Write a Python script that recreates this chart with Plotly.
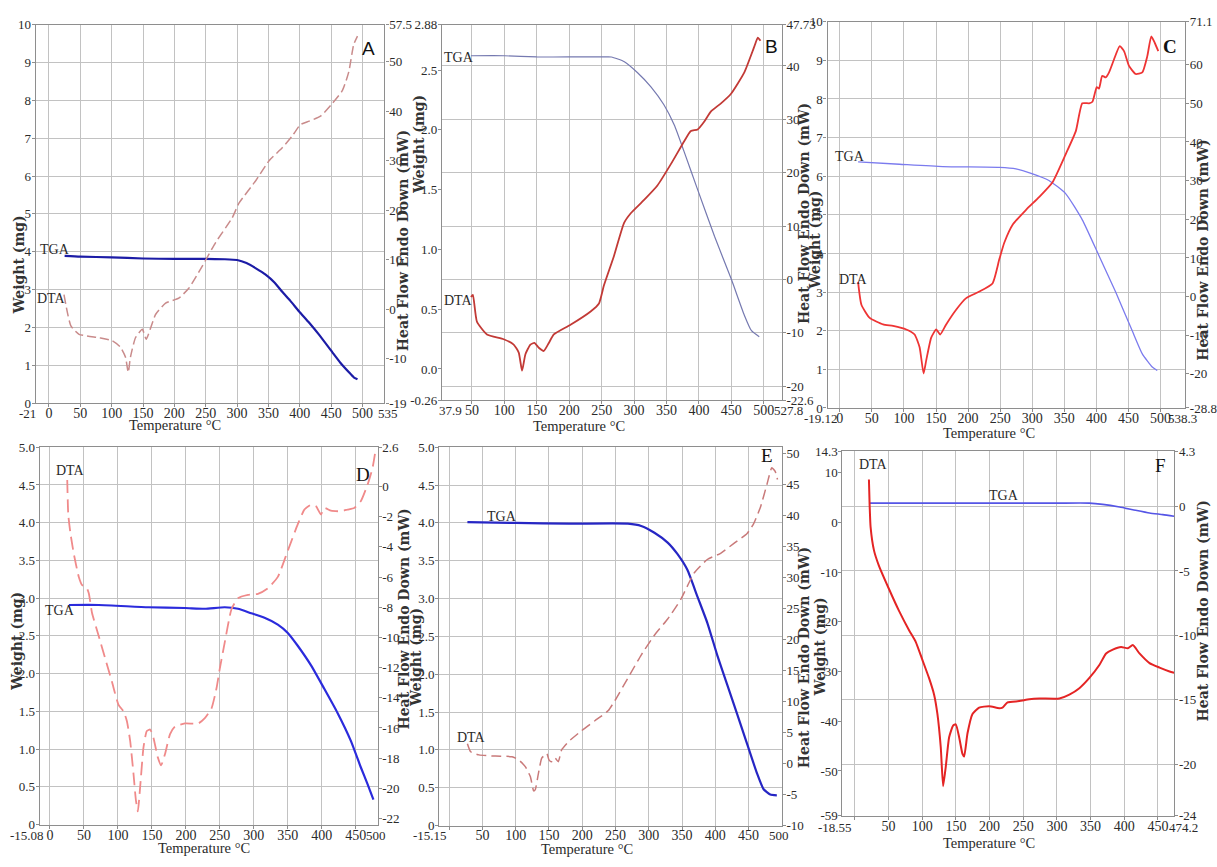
import plotly.graph_objects as go

# ---------------------------------------------------------------- data
# Panel A
A_TGA_T = [25, 50, 100, 150, 200, 250, 280, 300, 315, 330, 345, 360, 372, 385, 399, 415, 430, 452, 465, 478, 486, 492]
A_TGA_W = [3.89, 3.87, 3.85, 3.82, 3.81, 3.81, 3.80, 3.78, 3.70, 3.56, 3.40, 3.18, 2.94, 2.70, 2.42, 2.12, 1.82, 1.34, 1.06, 0.82, 0.68, 0.63]
A_DTA_T = [24, 35, 48, 80, 101, 114, 122, 126.5, 130, 138, 149, 155, 170, 186, 207, 223, 245, 266, 292, 303, 330, 351, 372, 388, 401, 415, 433, 452, 468, 478, 486, 492]
A_DTA_Q = [2.9, -3.4, -5.1, -5.8, -6.4, -7.7, -9.7, -12.8, -9.7, -5.8, -4.1, -6.1, -1.1, 1.2, 2.2, 4.2, 8.8, 13.5, 18.4, 21.4, 26.0, 30.0, 32.6, 35.0, 37.3, 38.0, 39.0, 41.6, 44.2, 47.9, 53.5, 55.2]

# Panel B
B_TGA_T = [48.5, 100, 150, 200, 250, 265, 285, 305, 326, 346, 362, 377, 398, 424, 450, 470, 481, 493]
B_TGA_W = [2.62, 2.62, 2.61, 2.61, 2.61, 2.61, 2.57, 2.48, 2.36, 2.21, 2.04, 1.82, 1.50, 1.11, 0.75, 0.45, 0.32, 0.27]
B_DTA_T = [48.5, 51.5, 57.7, 73.2, 99, 114.4, 122.2, 127.3, 132.5, 140.2, 146.4, 153.1, 160.8, 168.6, 176.3, 202, 233, 245.9, 253.6, 269, 284.6, 294.9, 315.5, 336, 356.7, 377.3, 387.6, 398, 408.3, 418.6, 434, 449.5, 470, 485.6, 490.8, 494.9]
B_DTA_Q = [-3.3, -2.9, -7.9, -10.3, -11.2, -12.2, -13.7, -17.1, -14.0, -12.2, -11.9, -12.8, -13.4, -11.9, -10.3, -8.5, -6.0, -4.5, -1.1, 4.4, 10.6, 12.4, 14.9, 17.6, 21.6, 25.9, 27.8, 28.1, 29.6, 31.5, 33.0, 34.8, 38.8, 43.7, 45.3, 44.7]

# Panel C
C_TGA_T = [28.5, 93, 160.6, 248.7, 274.6, 300.5, 326, 352, 378, 404, 430, 456, 471.5, 487, 494.8]
C_TGA_W = [6.37, 6.31, 6.25, 6.23, 6.19, 6.06, 5.89, 5.55, 4.87, 3.94, 3.00, 1.99, 1.40, 1.06, 0.97]
C_DTA_T = [28.5, 33.7, 46.6, 67.4, 83, 103.6, 116.6, 124.4, 130.6, 134.7, 142.5, 150.3, 156.5, 165.8, 181.3, 197, 217.6, 238, 248.7, 256.5, 269.4, 290, 311, 331.6, 352, 367.9, 378, 388.6, 393.8, 400.5, 404, 409, 414.5, 419.7, 427.5, 436.3, 443, 450.8, 461, 471.5, 479.3, 485.5, 491, 496.4]
C_DTA_Q = [3.8, -2.1, -5.5, -7.2, -7.6, -8.5, -9.8, -13.1, -19.9, -16.5, -10.6, -8.5, -9.8, -7.2, -3.4, -0.4, 1.3, 3.4, 9.7, 14.0, 18.6, 22.4, 25.8, 29.6, 36.8, 42.8, 50.0, 50.0, 50.4, 54.2, 53.8, 57.1, 56.7, 58.0, 61.4, 64.8, 63.5, 59.7, 57.6, 58.0, 62.2, 67.3, 65.6, 63.5]

# Panel D
D_TGA_T = [27.8, 71.7, 144.9, 198.6, 227.9, 257.2, 276.7, 296.2, 315.7, 335.3, 350, 364.6, 384.2, 403.7, 423.2, 442.8, 457.4, 467.2, 476]
D_TGA_W = [2.91, 2.91, 2.88, 2.87, 2.86, 2.88, 2.86, 2.80, 2.74, 2.65, 2.54, 2.37, 2.11, 1.80, 1.48, 1.11, 0.76, 0.54, 0.33]
D_DTA_T = [25.4, 26.9, 30.3, 35.1, 42.4, 47.3, 53.2, 57.1, 61.9, 71.7, 81.4, 91.2, 100.9, 108.3, 113.2, 118, 122.9, 126.4, 129.3, 132.7, 137.6, 142.5, 147.4, 152.2, 158.6, 163.5, 169.3, 176.7, 184, 198.6, 218.2, 227.9, 237.7, 245, 249.9, 257.2, 267, 276.7, 291.4, 306, 320.7, 335.3, 350, 364.6, 374.4, 384.2, 391.5, 398.8, 403.7, 413.5, 428.1, 437.9, 447.7, 457.4, 467.2, 474.5, 479.4]
D_DTA_Q = [0.43, -1.86, -3.16, -4.47, -5.99, -6.53, -6.64, -7.07, -8.38, -9.9, -11.42, -12.94, -14.47, -14.9, -15.55, -16.86, -19.03, -20.77, -21.53, -19.9, -17.29, -16.2, -16.1, -16.64, -17.93, -18.47, -17.72, -16.4, -15.9, -15.7, -15.7, -15.35, -14.7, -13.38, -12.07, -10.33, -8.15, -7.4, -7.18, -7.11, -6.74, -5.99, -4.25, -2.51, -1.53, -1.2, -1.31, -1.86, -1.42, -1.6, -1.64, -1.53, -1.42, -0.98, 0.1, 1.19, 2.49]

# Panel E
E_TGA_T = [27.4, 100, 180, 268.7, 288.6, 308.5, 328.4, 343, 358, 373, 388, 403, 418, 433, 447.8, 462.7, 472.6, 482.6, 492.5]
E_TGA_W = [4.01, 4.00, 3.99, 3.99, 3.96, 3.87, 3.74, 3.59, 3.38, 3.03, 2.68, 2.25, 1.86, 1.47, 1.08, 0.69, 0.48, 0.41, 0.40]
E_DTA_T = [27.4, 32.3, 44.8, 69.7, 94.5, 104.5, 114.4, 122, 127, 129.4, 134.3, 139.3, 146.8, 150, 154, 159, 164, 169, 179, 199, 219, 238.8, 248.8, 268.7, 288.6, 308.5, 328.4, 348.3, 368, 388, 408, 428, 447.8, 457.7, 467.7, 477.6, 485, 490, 493.5]
E_DTA_Q = [3.2, 1.9, 1.4, 1.2, 1.1, 0.6, -0.5, -2.1, -4.4, -4.2, -1.5, 0.9, 1.6, 0.6, 0.3, 0.9, 0.3, 2.2, 3.5, 5.3, 6.9, 8.5, 10.1, 13.8, 17.5, 20.7, 23.3, 26.5, 30.7, 32.9, 33.9, 35.5, 37.1, 38.7, 41.3, 45.0, 47.7, 47.1, 45.8]

# Panel F
F_TGA_T = [21.8, 100, 200, 300, 348, 368, 393, 412.7, 437.5, 457.3, 474]
F_TGA_W = [3.86, 3.86, 3.86, 3.86, 3.86, 3.6, 3.07, 2.54, 1.88, 1.55, 1.22]
F_DTA_T = [20.8, 21.8, 23.3, 28.3, 35.7, 50.6, 65.5, 80.4, 90.3, 100.2, 110, 117.6, 122.5, 127.5, 131, 134.9, 139.9, 145.8, 149.8, 154.8, 159.7, 162.2, 167.2, 174.6, 184.5, 199.4, 214.3, 219.2, 226.7, 244, 259, 273.8, 303.6, 318.5, 333.3, 348.2, 363, 373, 383, 395.3, 405.3, 412.7, 422.6, 437.5, 452.4, 467.3, 474]
F_DTA_Q = [2.1, 0.2, -1.6, -3.4, -4.6, -6.4, -8.1, -9.6, -10.5, -11.9, -13.3, -14.6, -16.1, -18.7, -21.7, -20.2, -17.9, -17.0, -16.9, -17.9, -19.2, -19.4, -17.6, -16.1, -15.6, -15.5, -15.65, -15.6, -15.2, -15.1, -14.96, -14.9, -14.9, -14.6, -14.1, -13.3, -12.3, -11.4, -11.1, -10.9, -11.0, -10.75, -11.4, -12.15, -12.5, -12.8, -12.9]

# ---------------------------------------------------------------- tick labels
TEMP_TICKS = [50, 100, 150, 200, 250, 300, 350, 400, 450]

A_X_VALS = [0] + TEMP_TICKS + [500]
A_X_TEXT = ["0"] + [str(v) for v in TEMP_TICKS] + ["500"]
A_X_ENDS = ["-21", "535"]
A_WL_VALS = list(range(0, 11))
A_HF_VALS = [-19, -10, 0, 10, 20, 30, 40, 50, 57.5]

B_X_VALS = TEMP_TICKS + [500]
B_X_TEXT = [str(v) for v in TEMP_TICKS] + ["500"]
B_X_ENDS = ["37.9", "527.8"]
B_WL_VALS = [-0.26, 0.0, 0.5, 1.0, 1.5, 2.0, 2.5, 2.88]
B_WL_TEXT = ["-0.26", "0.0", "0.5", "1.0", "1.5", "2.0", "2.5", "2.88"]
B_HF_VALS = [-22.6, -20, -10, 0, 10, 20, 30, 40, 47.73]

C_X_VALS = [0] + TEMP_TICKS + [500]
C_X_TEXT = ["0"] + [str(v) for v in TEMP_TICKS] + ["500"]
C_X_ENDS = ["-19.12", "538.3"]
C_WL_VALS = list(range(0, 11))
C_HF_VALS = [-28.8, -20, -10, 0, 10, 20, 30, 40, 50, 60, 71.1]

D_X_VALS = [0] + TEMP_TICKS
D_X_TEXT = ["0"] + [str(v) for v in TEMP_TICKS]
D_X_ENDS = ["-15.08", "500"]
D_WL_VALS = [0, 0.5, 1.0, 1.5, 2.0, 2.5, 3.0, 3.5, 4.0, 4.5, 5.0]
D_WL_TEXT = ["0", "0.5", "1.0", "1.5", "2.0", "2.5", "3.0", "3.5", "4.0", "4.5", "5.0"]
D_HF_VALS = [-22, -20, -18, -16, -14, -12, -10, -8, -6, -4, -2, 0, 2.6]

E_X_VALS = [0] + TEMP_TICKS
E_X_TEXT = [""] + [str(v) for v in TEMP_TICKS]
E_X_ENDS = ["-15.15", "500"]
E_WL_VALS = D_WL_VALS
E_WL_TEXT = D_WL_TEXT
E_HF_VALS = [-10, -5, 0, 5, 10, 15, 20, 25, 30, 35, 40, 45, 50]

F_X_VALS = [0] + TEMP_TICKS
F_X_TEXT = [""] + [str(v) for v in TEMP_TICKS]
F_X_ENDS = ["-18.55", "474.2"]
F_WL_VALS = [-59, -50, -40, -30, -20, -10, 0, 10, 14.3]
F_HF_VALS = [-24, -20, -15, -10, -5, 0, 4.3]

# ---------------------------------------------------------------- layout helpers
FIG_W, FIG_H = 1217, 867
SERIF = "Liberation Serif"
TITLE_FONT = dict(family="DejaVu Serif", size=14, color="#333333", weight="bold")
TICK_FONT = dict(family=SERIF, size=14, color="#2a2a2a")
END_FONT = dict(family=SERIF, size=13, color="#2a2a2a")
YTICK_FONT = dict(family=SERIF, size=13, color="#2a2a2a")
GRID = "#c2c2c2"
FRAME = "#8e8e8e"


def fx(px):
    return px / FIG_W


def fy(py):
    return 1 - py / FIG_H


def fmt(v):
    return ("%g" % v)


panels = [
    dict(box=(36, 387, 18, 403), xr=(-21, 535), xt=(A_X_VALS, A_X_TEXT),
         ends=(A_X_ENDS, (28, 391), 414),
         wl=(0, 10), wlt=(A_WL_VALS, [fmt(v) for v in A_WL_VALS]),
         hf=(-19, 57.5), hft=(A_HF_VALS, [fmt(v) for v in A_HF_VALS]), grid="left",
         tga=(A_TGA_T, A_TGA_W), dta=(A_DTA_T, A_DTA_Q),
         tga_style=dict(color="#1c1ca6", width=2.2), dta_style=dict(color="#c98b8b", width=1.5, dash="9px,4px"),
         letter=("A", 371, 42, "Liberation Sans", False),
         lab_tga=(55, 247), lab_dta=(52, 297),
         wtitle=(20, 262), htitle=(406, 238), ttitle=(176, 425)),
    dict(box=(445, 787, 18, 400), xr=(4, 527.8), xt=(B_X_VALS, B_X_TEXT),
         ends=(B_X_ENDS, (453, 794), 411),
         wl=(-0.26, 2.88), wlt=(B_WL_VALS, B_WL_TEXT),
         hf=(-22.6, 47.73), hft=(B_HF_VALS, [fmt(v) for v in B_HF_VALS]), grid="right",
         tga=(B_TGA_T, B_TGA_W), dta=(B_DTA_T, B_DTA_Q),
         tga_style=dict(color="#7579b0", width=1.2), dta_style=dict(color="#c23a36", width=1.8),
         letter=("B", 777, 40, "Liberation Sans", False),
         lab_tga=(462, 51), lab_dta=(462, 299),
         wtitle=(421, 140), htitle=(810, 210), ttitle=(583, 426)),
    dict(box=(833, 1193, 15, 408), xr=(-19.12, 538.3), xt=(C_X_VALS, C_X_TEXT),
         ends=(C_X_ENDS, (826, 1190), 419),
         wl=(0, 10), wlt=(C_WL_VALS, [fmt(v) for v in C_WL_VALS]),
         hf=(-28.8, 71.1), hft=(C_HF_VALS, [fmt(v) for v in C_HF_VALS]), grid="left",
         tga=(C_TGA_T, C_TGA_W), dta=(C_DTA_T, C_DTA_Q),
         tga_style=dict(color="#7b7bee", width=1.3), dta_style=dict(color="#ee3434", width=1.8),
         letter=("C", 1178, 40, SERIF, True),
         lab_tga=(856, 152), lab_dta=(859, 277),
         wtitle=(820, 237), htitle=(1211, 248), ttitle=(996, 434)),
    dict(box=(40, 380, 448, 832), xr=(-15.08, 482), xt=(D_X_VALS, D_X_TEXT),
         ends=(D_X_ENDS, (27, 378), 843),
         wl=(0, 5), wlt=(D_WL_VALS, D_WL_TEXT),
         hf=(-22.4, 2.6), hft=(D_HF_VALS, [fmt(v) for v in D_HF_VALS]), grid="left",
         tga=(D_TGA_T, D_TGA_W), dta=(D_DTA_T, D_DTA_Q),
         tga_style=dict(color="#2b2bdc", width=2.2), dta_style=dict(color="#f08a8a", width=1.8, dash="13px,6px"),
         letter=("D", 365, 476, SERIF, False),
         lab_tga=(60, 614), lab_dta=(71, 472),
         wtitle=(17, 645), htitle=(407, 623), ttitle=(205, 856)),
    dict(box=(442, 787, 448, 833), xr=(-15.15, 500), xt=(E_X_VALS, E_X_TEXT),
         ends=(E_X_ENDS, (433, 784), 843),
         wl=(0, 5), wlt=(E_WL_VALS, E_WL_TEXT),
         hf=(-10, 51), hft=(E_HF_VALS, [fmt(v) for v in E_HF_VALS]), grid="left",
         tga=(E_TGA_T, E_TGA_W), dta=(E_DTA_T, E_DTA_Q),
         tga_style=dict(color="#2626c4", width=2.2), dta_style=dict(color="#c97a7a", width=1.5, dash="10px,5px"),
         letter=("E", 772, 456, SERIF, False),
         lab_tga=(505, 518), lab_dta=(475, 743),
         wtitle=(418, 662), htitle=(809, 662), ttitle=(591, 857)),
    dict(box=(848, 1182, 452, 823), xr=(-18.55, 474.2), xt=(F_X_VALS, F_X_TEXT),
         ends=(F_X_ENDS, (841, 1191), 835),
         wl=(-59, 14.3), wlt=(F_WL_VALS, [fmt(v) for v in F_WL_VALS]),
         hf=(-24, 4.3), hft=(F_HF_VALS, [fmt(v) for v in F_HF_VALS]), grid="right",
         tga=(F_TGA_T, F_TGA_W), dta=(F_DTA_T, F_DTA_Q),
         tga_style=dict(color="#5555e6", width=1.6), dta_style=dict(color="#e42424", width=2.0),
         letter=("F", 1168, 467, SERIF, False),
         lab_tga=(1011, 497), lab_dta=(879, 466),
         wtitle=(825, 651), htitle=(1211, 615), ttitle=(996, 851)),
]

fig = go.Figure()
layout = dict(
    width=FIG_W, height=FIG_H, autosize=False,
    margin=dict(l=0, r=0, t=0, b=0, pad=0),
    paper_bgcolor="white", plot_bgcolor="white",
    showlegend=False, annotations=[],
)


def note(text, px, py, font, angle=0):
    return dict(text=text, x=fx(px), y=fy(py), xref="paper", yref="paper",
                xanchor="center", yanchor="middle", showarrow=False,
                textangle=angle, font=font)


for k, p in enumerate(panels, start=1):
    xname = "x" if k == 1 else f"x{k}"
    yl_idx, yr_idx = 2 * k - 1, 2 * k
    ylname = "y" if yl_idx == 1 else f"y{yl_idx}"
    yrname = f"y{yr_idx}"
    x0, x1, y0, y1 = p["box"]

    common = dict(showline=True, linecolor=FRAME, linewidth=1.2, ticks="outside", ticklen=3,
                  tickcolor=FRAME, zeroline=False, gridcolor=GRID, gridwidth=1, tickangle=0)

    layout["xaxis" if k == 1 else f"xaxis{k}"] = dict(
        domain=[fx(x0), fx(x1)], range=list(p["xr"]), anchor=ylname,
        tickmode="array", tickvals=p["xt"][0], ticktext=p["xt"][1], tickfont=TICK_FONT,
        ticklabelstandoff=-6, showgrid=True, mirror=True, **common)
    layout["yaxis" if yl_idx == 1 else f"yaxis{yl_idx}"] = dict(
        domain=[fy(y1), fy(y0)], range=list(p["wl"]), anchor=xname, side="left",
        tickmode="array", tickvals=p["wlt"][0], ticktext=p["wlt"][1], tickfont=YTICK_FONT,
        ticklabelstandoff=-2, showgrid=(p["grid"] == "left"), **common)
    layout[f"yaxis{yr_idx}"] = dict(
        range=list(p["hf"]), anchor=xname, overlaying=ylname, side="right",
        tickmode="array", tickvals=p["hft"][0], ticktext=p["hft"][1], tickfont=YTICK_FONT,
        ticklabelstandoff=-2, showgrid=(p["grid"] == "right"), **common)

    fig.add_trace(go.Scatter(x=p["tga"][0], y=p["tga"][1], xaxis=xname, yaxis=ylname,
                             mode="lines", line=dict(shape="spline", smoothing=0.5, **p["tga_style"]),
                             name="TGA", hoverinfo="skip"))
    fig.add_trace(go.Scatter(x=p["dta"][0], y=p["dta"][1], xaxis=xname, yaxis=yrname,
                             mode="lines", line=dict(shape="spline", smoothing=0.5, **p["dta_style"]),
                             name="DTA", hoverinfo="skip"))

    ann = layout["annotations"]
    label_font = dict(family=SERIF, size=14, color="#2a2a2a")
    ann.append(note("Weight (mg)", *p["wtitle"], TITLE_FONT, -90))
    ann.append(note("Heat Flow Endo Down (mW)", *p["htitle"], TITLE_FONT, -90))
    ann.append(note("Temperature °C", *p["ttitle"], dict(family=SERIF, size=14.5, color="#2a2a2a")))
    ann.append(note("TGA", *p["lab_tga"], label_font))
    ann.append(note("DTA", *p["lab_dta"], label_font))
    # range-end temperatures printed at both ends of the axis
    end_texts, end_px, end_py = p["ends"]
    for txt, ex in zip(end_texts, end_px):
        ann.append(note(txt, ex, end_py, END_FONT))
    letter, lx, ly, lfont, lbold = p["letter"]
    ann.append(note(letter, lx, ly, dict(family=lfont, size=19, color="#111111",
                                         weight="bold" if lbold else "normal")))

fig.update_layout(**layout)
fig.write_html("out.html")
